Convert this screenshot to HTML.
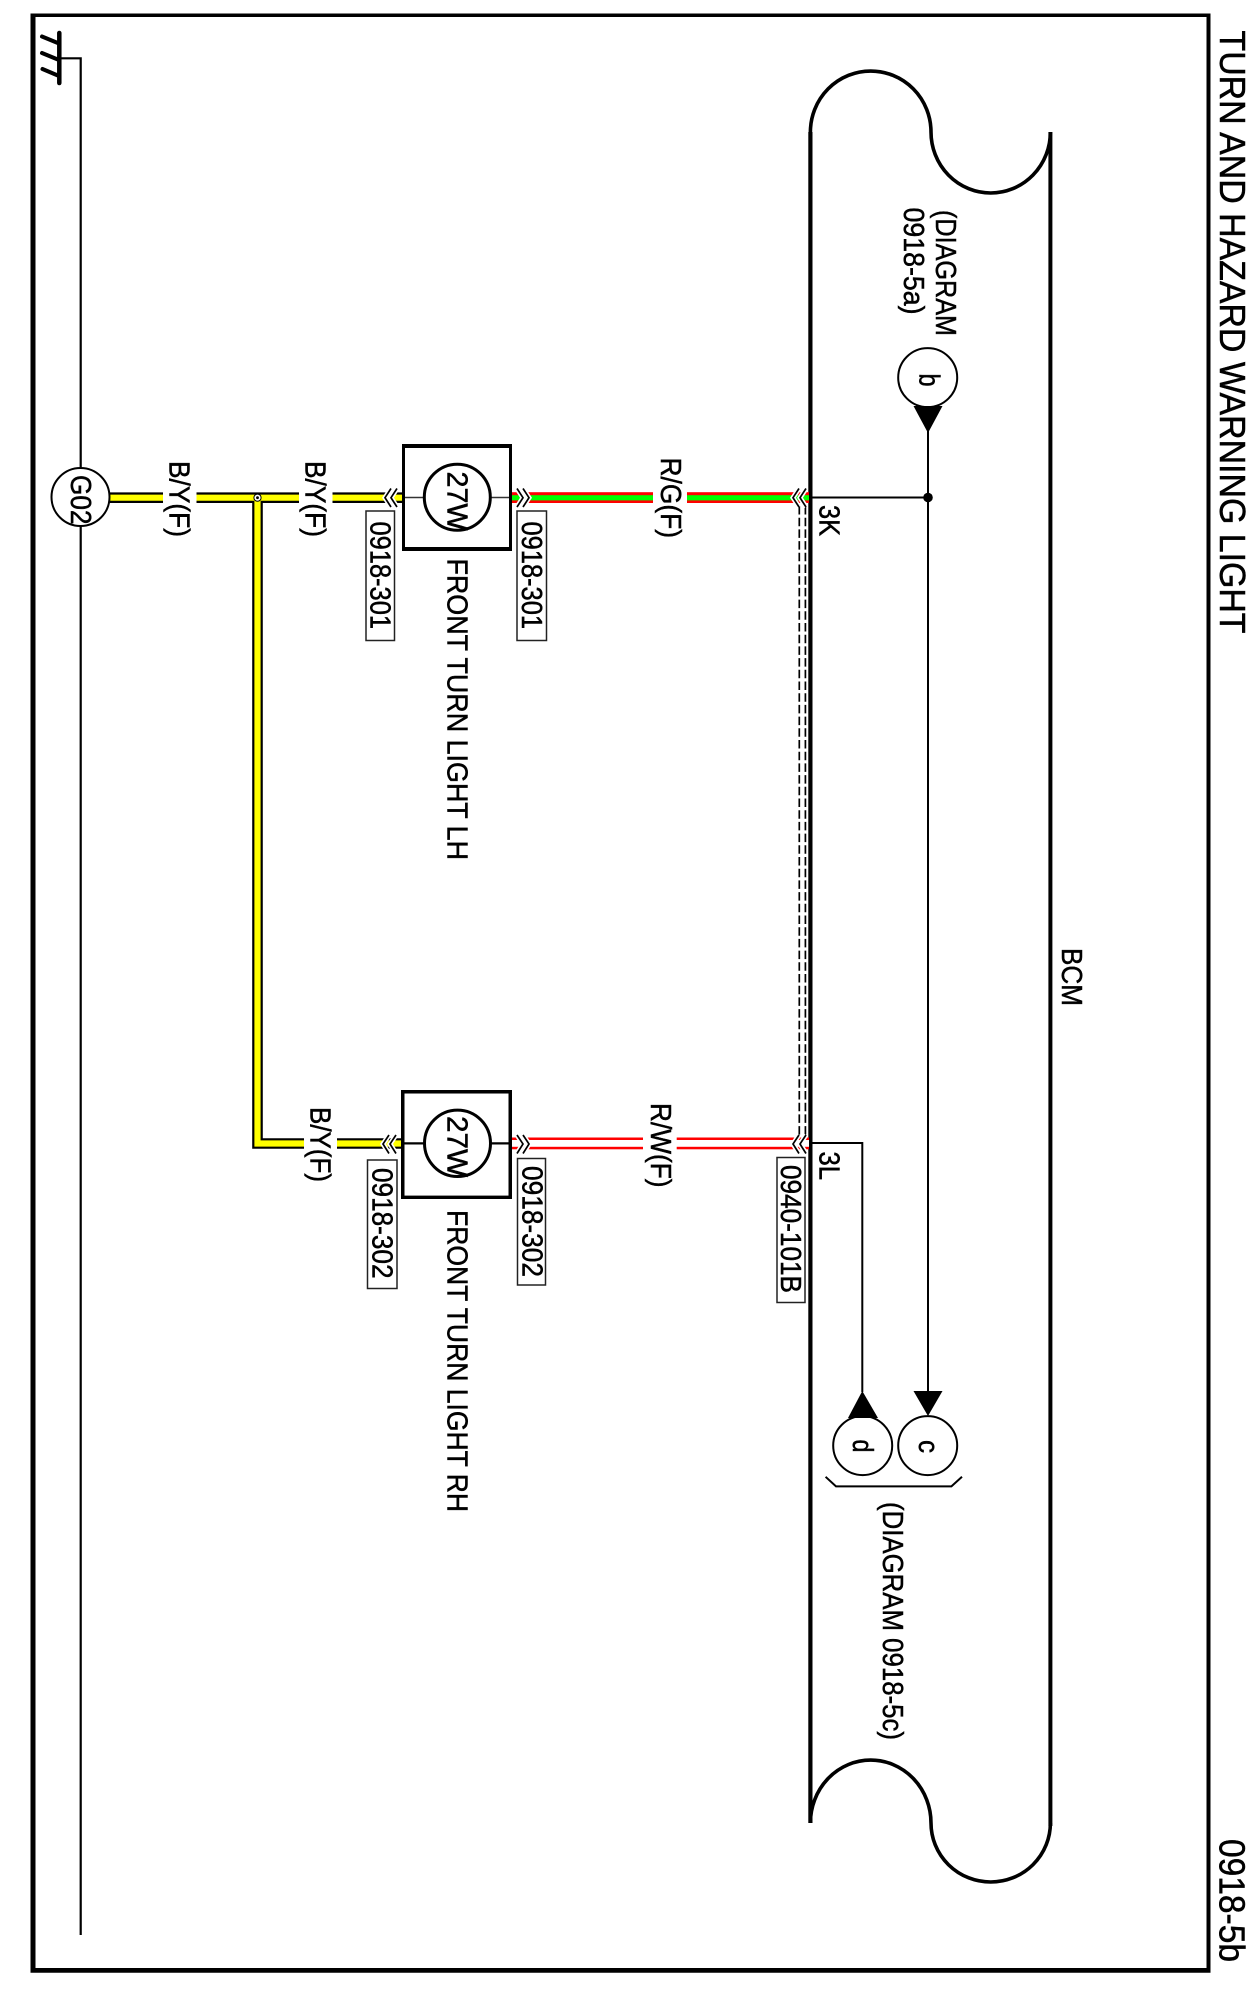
<!DOCTYPE html>
<html><head><meta charset="utf-8"><style>
html,body{margin:0;padding:0;background:#fff}
svg{display:block}
text{font-family:"Liberation Sans",Arial,sans-serif;fill:#000;stroke:#000;stroke-width:.5px}
</style></head><body>
<svg width="1252" height="1998" viewBox="0 0 1252 1998" xmlns="http://www.w3.org/2000/svg">
<rect width="1252" height="1998" fill="#fff"/>
<!-- frame -->
<path d="M30.5 13.5H1210.5V1972.7H30.5Z M35.5 17V1968H1206.5V17Z" fill="#000" fill-rule="evenodd"/>
<!-- ground -->
<path d="M59.3 33V83" stroke="#000" stroke-width="4.5" stroke-linecap="round" fill="none"/>
<path d="M42 36.5L59 43.5M42 53L59 60M42.5 69L59 76" stroke="#000" stroke-width="4" stroke-linecap="round" fill="none"/>
<path d="M59 58.3H80.7V1935" stroke="#000" stroke-width="2.2" fill="none"/>
<!-- BCM -->
<path d="M810.4 132V1823" stroke="#000" stroke-width="4.2" fill="none"/>
<path d="M1050.4 132V1826" stroke="#000" stroke-width="4" fill="none"/>
<path d="M810.4 132A60.3 61 0 0 1 931 132A59.7 61 0 0 0 1050.4 132" stroke="#000" stroke-width="3.6" fill="none"/>
<path d="M810.4 1823A60.3 63 0 0 1 931 1823A59.7 59 0 0 0 1050.4 1823" stroke="#000" stroke-width="3.6" fill="none"/>
<!-- dashed pair -->
<path d="M799.3 506V1140M805.4 506V1140" stroke="#000" stroke-width="1.7" stroke-dasharray="8.5 3.2" fill="none"/>
<!-- yellow wires -->
<path d="M110 497.7H403M257.5 497.7V1143.5H403" stroke="#000" stroke-width="10.6" fill="none"/>
<path d="M110 497.7H403M257.5 497.7V1143.5H403" stroke="#ffff00" stroke-width="6.2" fill="none"/>
<!-- red/green wire -->
<rect x="512" y="492.2" width="297" height="10.8" fill="#ff0000"/>
<rect x="512" y="495.2" width="297" height="5.2" fill="#00ff00"/>
<!-- red/white wire -->
<rect x="512" y="1137.5" width="297" height="11.8" fill="#ff0000"/>
<rect x="512" y="1140" width="297" height="6.8" fill="#fff"/>
<!-- label gaps -->
<rect x="163" y="488" width="33.5" height="20" fill="#fff"/>
<rect x="299" y="488" width="33.5" height="20" fill="#fff"/>
<rect x="304" y="1134" width="33" height="20" fill="#fff"/>
<rect x="653" y="488" width="34" height="20" fill="#fff"/>
<rect x="643" y="1134" width="33.7" height="20" fill="#fff"/>
<!-- junction -->
<circle cx="257.5" cy="497.7" r="3.6" fill="#fff" stroke="#000" stroke-width="1"/>
<circle cx="257.5" cy="497.7" r="1.4" fill="#000"/>
<!-- G02 -->
<circle cx="80.5" cy="497" r="29" fill="#fff" stroke="#000" stroke-width="2"/>
<!-- lamps -->
<path d="M402 444H512V551H402Z M405 448V547H509V448Z" fill="#000" fill-rule="evenodd"/>
<rect x="405" y="448" width="104" height="99" fill="#fff"/>
<path d="M405 497.5H424M490 497.5H509" stroke="#333" stroke-width="1.6"/>
<circle cx="457.3" cy="497.2" r="33" fill="#fff" stroke="#000" stroke-width="3"/>
<path d="M401 1090H512V1199H401Z M404.5 1093.6V1195.5H508.5V1093.6Z" fill="#000" fill-rule="evenodd"/>
<rect x="404.5" y="1093.6" width="104" height="102" fill="#fff"/>
<path d="M404 1143.4H425M490 1143.4H509" stroke="#000" stroke-width="2.2"/>
<ellipse cx="457.5" cy="1143.3" rx="33" ry="33.2" fill="#fff" stroke="#000" stroke-width="3"/>
<!-- chevrons -->
<g fill="none" stroke-linejoin="miter">
<g stroke="#fff" stroke-width="5">
<path d="M391 488.5L385 497.7L391 507M397 488.5L391 497.7L397 507"/>
<path d="M523 488.5L529 497.7L523 507M517 488.5L523 497.7L517 507"/>
<path d="M799 488.5L793 497.7L799 507M806 488.5L800 497.7L806 507"/>
<path d="M389 1135L383 1144L389 1153.5M396 1135L390 1144L396 1153.5"/>
<path d="M523 1135L529 1144L523 1153.5M517 1135L523 1144L517 1153.5"/>
<path d="M799 1135L793 1144L799 1153.5M806 1135L800 1144L806 1153.5"/>
</g>
<g stroke="#000" stroke-width="1.7">
<path d="M391 488.5L385 497.7L391 507M397 488.5L391 497.7L397 507"/>
<path d="M523 488.5L529 497.7L523 507M517 488.5L523 497.7L517 507"/>
<path d="M799 488.5L793 497.7L799 507M806 488.5L800 497.7L806 507"/>
<path d="M389 1135L383 1144L389 1153.5M396 1135L390 1144L396 1153.5"/>
<path d="M523 1135L529 1144L523 1153.5M517 1135L523 1144L517 1153.5"/>
<path d="M799 1135L793 1144L799 1153.5M806 1135L800 1144L806 1153.5"/>
</g>
</g>
<!-- signal lines -->
<path d="M812 497.5H928M928 430V1392" stroke="#000" stroke-width="2" fill="none"/>
<circle cx="928" cy="497.5" r="4.8" fill="#000"/>
<path d="M812 1143H862.3V1392" stroke="#000" stroke-width="2" fill="none"/>
<circle cx="927.7" cy="377.6" r="29.5" fill="#fff" stroke="#000" stroke-width="2"/>
<circle cx="862.7" cy="1445.6" r="29.5" fill="#fff" stroke="#000" stroke-width="2"/>
<circle cx="927.7" cy="1445.6" r="29.5" fill="#fff" stroke="#000" stroke-width="2"/>
<path d="M913.5 406H942.5L928 433Z" fill="#000"/>
<path d="M913.5 1391H942.5L928 1416Z" fill="#000"/>
<path d="M848 1418H878L862.3 1391Z" fill="#000"/>
<path d="M825.6 1476.8L836 1486.4H951.4L962 1476.8" stroke="#000" stroke-width="2" fill="none"/>
<!-- connector boxes -->
<g fill="#fff" stroke="#222" stroke-width="1.5">
<rect x="366" y="511" width="28.5" height="129.5"/>
<rect x="517" y="511" width="29.5" height="129.5"/>
<rect x="367.5" y="1160" width="29.5" height="128.5"/>
<rect x="517.5" y="1158.5" width="28" height="126.5"/>
<rect x="777" y="1157.5" width="28" height="145"/>
</g>
<!-- text -->
<g font-size="29">
<text transform="translate(1220 30.5) rotate(90)" font-size="36" textLength="603" lengthAdjust="spacingAndGlyphs">TURN AND HAZARD WARNING LIGHT</text>
<text transform="translate(1219.5 1839) rotate(90)" font-size="36" textLength="123" lengthAdjust="spacingAndGlyphs">0918-5b</text>
<text transform="translate(1062 948) rotate(90)" textLength="58" lengthAdjust="spacingAndGlyphs">BCM</text>
<text transform="translate(936 210) rotate(90)" textLength="126" lengthAdjust="spacingAndGlyphs">(DIAGRAM</text>
<text transform="translate(904 207.5) rotate(90)" textLength="107" lengthAdjust="spacingAndGlyphs">0918-5a)</text>
<text transform="translate(883 1502) rotate(90)" textLength="238" lengthAdjust="spacingAndGlyphs">(DIAGRAM 0918-5c)</text>
<text transform="translate(919.5 373.5) rotate(90)" textLength="13" lengthAdjust="spacingAndGlyphs">b</text>
<text transform="translate(919 1440) rotate(90)" textLength="13" lengthAdjust="spacingAndGlyphs">c</text>
<text transform="translate(853 1439.5) rotate(90)" textLength="13" lengthAdjust="spacingAndGlyphs">d</text>
<text transform="translate(71 475) rotate(90)" textLength="49.5" lengthAdjust="spacingAndGlyphs">G02</text>
<text transform="translate(169.5 461) rotate(90)" textLength="76" lengthAdjust="spacingAndGlyphs">B/Y(F)</text>
<text transform="translate(305.6 461) rotate(90)" textLength="76" lengthAdjust="spacingAndGlyphs">B/Y(F)</text>
<text transform="translate(310.4 1107) rotate(90)" textLength="75" lengthAdjust="spacingAndGlyphs">B/Y(F)</text>
<text transform="translate(661 457.5) rotate(90)" textLength="80.5" lengthAdjust="spacingAndGlyphs">R/G(F)</text>
<text transform="translate(651 1103) rotate(90)" textLength="84.5" lengthAdjust="spacingAndGlyphs">R/W(F)</text>
<text transform="translate(447.7 471.5) rotate(90)" textLength="59" lengthAdjust="spacingAndGlyphs">27W</text>
<text transform="translate(447.5 1116) rotate(90)" textLength="61" lengthAdjust="spacingAndGlyphs">27W</text>
<text transform="translate(447.5 558.5) rotate(90)" textLength="301.5" lengthAdjust="spacingAndGlyphs">FRONT TURN LIGHT LH</text>
<text transform="translate(447.5 1210) rotate(90)" textLength="302" lengthAdjust="spacingAndGlyphs">FRONT TURN LIGHT RH</text>
<text transform="translate(370.5 521.5) rotate(90)" textLength="107.5" lengthAdjust="spacingAndGlyphs">0918-301</text>
<text transform="translate(522 521.5) rotate(90)" textLength="107.5" lengthAdjust="spacingAndGlyphs">0918-301</text>
<text transform="translate(372.5 1168) rotate(90)" textLength="110.5" lengthAdjust="spacingAndGlyphs">0918-302</text>
<text transform="translate(522.5 1166) rotate(90)" textLength="111" lengthAdjust="spacingAndGlyphs">0918-302</text>
<text transform="translate(781 1165) rotate(90)" textLength="128" lengthAdjust="spacingAndGlyphs">0940-101B</text>
<text transform="translate(819.5 505) rotate(90)" textLength="31" lengthAdjust="spacingAndGlyphs">3K</text>
<text transform="translate(819.5 1151.5) rotate(90)" textLength="28.5" lengthAdjust="spacingAndGlyphs">3L</text>
</g>
</svg>
</body></html>
